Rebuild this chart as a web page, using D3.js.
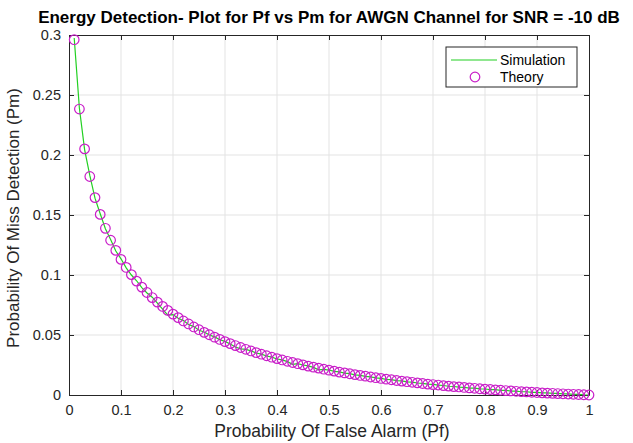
<!DOCTYPE html>
<html>
<head>
<meta charset="utf-8">
<script src="https://cdn.jsdelivr.net/npm/d3@7"></script>
<style>
  body { margin: 0; background: #fff; }
  svg { display: block; font-family: "Liberation Sans", Arial, sans-serif; }
</style>
</head>
<body>
<div id="chart"></div>
<script>
// Pf grid (0.01 .. 1.00)
const pf = d3.range(1, 101).map(i => i / 100);

// theory Pm
const pmTheory = [
  0.2961, 0.2383, 0.2051, 0.1821, 0.1645, 0.1505, 0.1389, 0.1290, 0.1205, 0.1130,
  0.1063, 0.1003, 0.0949, 0.0899, 0.0854, 0.0812, 0.0774, 0.0738, 0.0705, 0.0674,
  0.0645, 0.0617, 0.0592, 0.0567, 0.0544, 0.0522, 0.0502, 0.0482, 0.0463, 0.0445,
  0.0428, 0.0412, 0.0396, 0.0381, 0.0367, 0.0353, 0.0340, 0.0327, 0.0315, 0.0303,
  0.0292, 0.0281, 0.0271, 0.0261, 0.0251, 0.0241, 0.0232, 0.0224, 0.0215, 0.0207,
  0.0199, 0.0191, 0.0184, 0.0177, 0.0170, 0.0163, 0.0157, 0.0150, 0.0144, 0.0138,
  0.0132, 0.0127, 0.0121, 0.0116, 0.0111, 0.0106, 0.0101, 0.0096, 0.0091, 0.0087,
  0.0083, 0.0078, 0.0074, 0.0070, 0.0067, 0.0063, 0.0059, 0.0056, 0.0052, 0.0049,
  0.0046, 0.0043, 0.0040, 0.0037, 0.0034, 0.0031, 0.0028, 0.0026, 0.0023, 0.0021,
  0.0018, 0.0016, 0.0014, 0.0012, 0.0010, 0.0008, 0.0006, 0.0004, 0.0002, 0.0000
];

// simulated Pm (green line), same grid, a little noisy
const pmSim = [
  0.2975, 0.2390, 0.2045, 0.1830, 0.1640, 0.1510, 0.1385, 0.1295, 0.1200, 0.1135,
  0.1060, 0.1000, 0.0952, 0.0895, 0.0850, 0.0815, 0.0765, 0.0715, 0.0665, 0.0670,
  0.0640, 0.0620, 0.0588, 0.0570, 0.0540, 0.0525, 0.0500, 0.0484, 0.0460, 0.0447,
  0.0425, 0.0400, 0.0385, 0.0380, 0.0368, 0.0350, 0.0341, 0.0325, 0.0316, 0.0300,
  0.0293, 0.0278, 0.0255, 0.0262, 0.0250, 0.0243, 0.0230, 0.0210, 0.0214, 0.0208,
  0.0197, 0.0192, 0.0182, 0.0178, 0.0168, 0.0164, 0.0155, 0.0151, 0.0143, 0.0139,
  0.0131, 0.0128, 0.0120, 0.0117, 0.0110, 0.0107, 0.0100, 0.0097, 0.0090, 0.0088,
  0.0082, 0.0079, 0.0073, 0.0071, 0.0066, 0.0064, 0.0058, 0.0057, 0.0051, 0.0050,
  0.0045, 0.0044, 0.0039, 0.0038, 0.0033, 0.0032, 0.0027, 0.0027, 0.0022, 0.0022,
  0.0017, 0.0017, 0.0013, 0.0013, 0.0009, 0.0009, 0.0005, 0.0005, 0.0002, 0.0000
];

const xTicks = d3.range(0, 11).map(i => i / 10);
const yTicks = [0, 0.05, 0.1, 0.15, 0.2, 0.25, 0.3];
const legendLabels = ['Simulation', 'Theory'];

const width = 633;
const height = 443;
const padLeft = 69, padRight = 589, padTop = 35, padBottom = 395;
const axisColor = '#262626';
const gridColor = '#e3e3e3';
const simColor = '#22d022';
const theoryColor = '#c81ec8';

const x = d3.scaleLinear().domain([0, 1]).range([padLeft, padRight]);
const y = d3.scaleLinear().domain([0, 0.3]).range([padBottom, padTop]);

const svg = d3.select('#chart')
              .append('svg')
              .attr('width', width)
              .attr('height', height);

svg.append('rect')
   .attr('width', width)
   .attr('height', height)
   .attr('fill', '#fff');

//grid
svg.append('g')
   .selectAll('line')
   .data(xTicks.slice(1, -1))
   .enter()
   .append('line')
   .attr('x1', d => x(d)).attr('x2', d => x(d))
   .attr('y1', padTop).attr('y2', padBottom)
   .attr('stroke', gridColor);

svg.append('g')
   .selectAll('line')
   .data(yTicks.slice(1, -1))
   .enter()
   .append('line')
   .attr('x1', padLeft).attr('x2', padRight)
   .attr('y1', d => y(d)).attr('y2', d => y(d))
   .attr('stroke', gridColor);

//axes (ticks inward, box on)
const xAxis = d3.axisBottom(x).tickValues(xTicks).tickFormat(d3.format('~g')).tickSizeInner(-5).tickSizeOuter(0).tickPadding(10);
const yAxis = d3.axisLeft(y).tickValues(yTicks).tickFormat(d3.format('~g')).tickSizeInner(-5).tickSizeOuter(0).tickPadding(8);

const gx = svg.append('g').attr('transform', 'translate(0,' + padBottom + ')').call(xAxis);
const gy = svg.append('g').attr('transform', 'translate(' + padLeft + ',0)').call(yAxis);

svg.append('g').attr('transform', 'translate(0,' + padTop + ')')
   .call(d3.axisTop(x).tickValues(xTicks).tickFormat('').tickSizeInner(-5).tickSizeOuter(0));
svg.append('g').attr('transform', 'translate(' + padRight + ',0)')
   .call(d3.axisRight(y).tickValues(yTicks).tickFormat('').tickSizeInner(-5).tickSizeOuter(0));

svg.selectAll('.domain').attr('stroke', axisColor);
svg.selectAll('.tick line').attr('stroke', axisColor);
[gx, gy].forEach(g => g.selectAll('text')
   .attr('fill', axisColor)
   .attr('font-size', 14.5)
   .attr('font-family', '"Liberation Sans", Arial, sans-serif'));

//simulation line
const line = d3.line().x((d, i) => x(pf[i])).y(d => y(d));
svg.append('path')
   .datum(pmSim)
   .attr('d', line)
   .attr('fill', 'none')
   .attr('stroke', simColor)
   .attr('stroke-width', 1.2);

//theory circles
svg.append('g')
   .selectAll('circle')
   .data(pmTheory)
   .enter()
   .append('circle')
   .attr('cx', (d, i) => x(pf[i]))
   .attr('cy', d => y(d))
   .attr('r', 4.8)
   .attr('fill', 'none')
   .attr('stroke', theoryColor)
   .attr('stroke-width', 1.2);

//legend
const legend = svg.append('g').attr('transform', 'translate(446,47)');
legend.append('rect')
      .attr('width', 131).attr('height', 40)
      .attr('fill', '#fff')
      .attr('stroke', axisColor);
legend.append('line')
      .attr('x1', 5).attr('x2', 51).attr('y1', 13).attr('y2', 13)
      .attr('stroke', simColor).attr('stroke-width', 1.2);
legend.append('circle')
      .attr('cx', 29).attr('cy', 30).attr('r', 4.8)
      .attr('fill', 'none').attr('stroke', theoryColor).attr('stroke-width', 1.2);
legend.selectAll('text')
      .data(legendLabels)
      .enter()
      .append('text')
      .text(d => d)
      .attr('x', 54)
      .attr('y', (d, i) => 18 + i * 17)
      .attr('font-size', 14)
      .attr('fill', '#000');

//title and labels
svg.append('text')
   .text('Energy Detection- Plot for Pf vs Pm for AWGN Channel for SNR = -10 dB')
   .attr('x', (padLeft + padRight) / 2)
   .attr('y', 22.5)
   .attr('text-anchor', 'middle')
   .attr('font-size', 17)
   .attr('font-weight', 'bold')
   .attr('fill', '#000');

svg.append('text')
   .text('Probability Of False Alarm (Pf)')
   .attr('x', (padLeft + padRight) / 2 + 3)
   .attr('y', 437)
   .attr('text-anchor', 'middle')
   .attr('font-size', 17.5)
   .attr('fill', axisColor);

svg.append('text')
   .text('Probability Of Miss Detection (Pm)')
   .attr('transform', 'translate(19,' + ((padTop + padBottom) / 2 + 3) + ') rotate(-90)')
   .attr('text-anchor', 'middle')
   .attr('font-size', 17)
   .attr('fill', axisColor);
</script>
</body>
</html>
